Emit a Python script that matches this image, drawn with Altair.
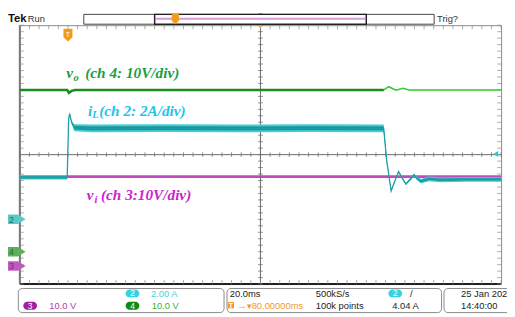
import altair as alt
import numpy as np
import pandas as pd

# ---------------- data read from the screen ----------------
# time axis in ms (20 ms/div), trigger at 0 ms, screen spans -20 .. 180 ms
iL_t = [-20, -8, -0.3, 0.3, 0.7, 1.5, 2.7, 10, 40, 70, 100, 131.2, 132.5, 134.3, 135.8,
        137.4, 138.9, 140.4, 142.1, 143.8, 145.3, 146.7, 150, 155, 165, 180]
iL_A = [2.6, 2.6, 2.6, 6.2, 6.53, 6.0, 5.66, 5.62, 5.64, 5.62, 5.64, 5.62, 3.6, 1.76, 2.35,
        2.95, 2.55, 2.18, 2.45, 2.74, 2.5, 2.36, 2.5, 2.45, 2.47, 2.47]
iL_noise = [0.14, 0.14, 0.14, 0.05, 0.05, 0.08, 0.22, 0.24, 0.24, 0.24, 0.24, 0.24, 0.05, 0.05, 0.05,
            0.05, 0.06, 0.06, 0.08, 0.1, 0.12, 0.14, 0.15, 0.15, 0.15, 0.15]

vo_t = [-20, -0.3, 0.4, 1.5, 3, 131.3, 133.3, 136.3, 139.3, 141.7, 150, 180]
vo_V = [50.0, 50.0, 49.1, 49.7, 50.0, 50.0, 51.0, 49.9, 50.5, 50.0, 50.0, 50.0]

vi_t = [-20, 0, 40, 80, 120, 131, 150, 180]
vi_V = [27.6, 27.6, 27.6, 27.6, 27.6, 27.6, 27.6, 27.6]

# channel settings (scale per division, ground position in divisions)
CH2_SCALE, CH2_GND = 2.0, -2.0     # iL
CH3_SCALE, CH3_GND = 10.0, -3.44   # vi
CH4_SCALE, CH4_GND = 10.0, -3.0    # vo
TRIG_LEVEL = 4.04

# ---------------- layout ----------------
W, H = 489, 263
XS = alt.Scale(domain=[-20, 180], nice=False, zero=False)
YS = alt.Scale(domain=[-4, 4], nice=False, zero=False)

def px(field):
    return alt.X(field, type="quantitative", scale=None, axis=None)

def py(field):
    return alt.Y(field, type="quantitative", scale=None, axis=None)

iL = pd.DataFrame({"t": iL_t, "v": iL_A, "n": iL_noise})
iL["y"] = iL.v / CH2_SCALE + CH2_GND
iL["lo"] = (iL.v - iL.n) / CH2_SCALE + CH2_GND
iL["hi"] = (iL.v + iL.n) / CH2_SCALE + CH2_GND
iL["lo2"] = (iL.v - 0.5 * iL.n) / CH2_SCALE + CH2_GND
iL["hi2"] = (iL.v + 0.5 * iL.n) / CH2_SCALE + CH2_GND

vo = pd.DataFrame({"t": vo_t, "v": vo_V})
vo["y"] = vo.v / CH4_SCALE + CH4_GND
vo_a = vo[vo.t <= 131.3]
vo_b = vo[vo.t >= 131.3]

vi = pd.DataFrame({"t": vi_t, "v": vi_V})
vi["y"] = vi.v / CH3_SCALE + CH3_GND

# ---------------- graticule ----------------
base = alt.Chart(vi).mark_line(strokeWidth=3, color="#c04cc0").encode(
    x=alt.X("t:Q", scale=XS, axis=alt.Axis(values=[0, 20, 40, 60, 100, 120, 140, 160], grid=True,
            gridDash=[1, 5.575], gridColor="#8c8c8c", gridWidth=1, labels=False, ticks=False,
            domain=False, title=None)),
    y=alt.Y("y:Q", scale=YS, axis=alt.Axis(values=[-3, -2, -1, 1, 2, 3], grid=True,
            gridDash=[1, 8.78], gridColor="#8c8c8c", gridWidth=1, labels=False, ticks=False,
            domain=False, title=None)),
)

minor_x = pd.DataFrame({"t": np.arange(-20, 180.01, 4.0)})
minor_y = pd.DataFrame({"y": np.arange(-4, 4.01, 0.2)})

cross_h = alt.Chart(pd.DataFrame({"y": [0]})).mark_rule(color="#6a6a6a", strokeWidth=1).encode(
    y=alt.Y("y:Q", scale=YS, axis=None))
cross_v = alt.Chart(pd.DataFrame({"t": [80]})).mark_rule(color="#6a6a6a", strokeWidth=1).encode(
    x=alt.X("t:Q", scale=XS, axis=None))
tick_cx = alt.Chart(minor_x).mark_tick(color="#6a6a6a", size=5, thickness=1).encode(
    x=alt.X("t:Q", scale=XS, axis=None), y=alt.datum(0, scale=YS))
tick_cy = alt.Chart(minor_y).mark_tick(color="#6a6a6a", size=5, thickness=1, orient="horizontal").encode(
    y=alt.Y("y:Q", scale=YS, axis=None), x=alt.datum(80, scale=XS))
tick_top = alt.Chart(minor_x).mark_tick(color="#8a8a8a", size=4, thickness=1, yOffset=2).encode(
    x=alt.X("t:Q", scale=XS, axis=None), y=alt.datum(4, scale=YS))
tick_bot = alt.Chart(minor_x).mark_tick(color="#8a8a8a", size=4, thickness=1, yOffset=-2).encode(
    x=alt.X("t:Q", scale=XS, axis=None), y=alt.datum(-4, scale=YS))
tick_l = alt.Chart(minor_y).mark_tick(color="#8a8a8a", size=4, thickness=1, orient="horizontal", xOffset=2).encode(
    y=alt.Y("y:Q", scale=YS, axis=None), x=alt.datum(-20, scale=XS))
tick_r = alt.Chart(minor_y).mark_tick(color="#8a8a8a", size=4, thickness=1, orient="horizontal", xOffset=-2).encode(
    y=alt.Y("y:Q", scale=YS, axis=None), x=alt.datum(180, scale=XS))
frame_bot = alt.Chart(pd.DataFrame({"y": [-4]})).mark_rule(color="#202020", strokeWidth=2).encode(
    y=alt.Y("y:Q", scale=YS, axis=None))
frame_l = alt.Chart(pd.DataFrame({"t": [-20]})).mark_rule(color="#7a7a7a", strokeWidth=2).encode(
    x=alt.X("t:Q", scale=XS, axis=None))

# ---------------- traces ----------------
vo_line_a = alt.Chart(vo_a).mark_line(strokeWidth=2.6, color="#1c8c1c").encode(
    x=alt.X("t:Q", scale=XS, axis=None), y=alt.Y("y:Q", scale=YS, axis=None))
vo_line_b = alt.Chart(vo_b).mark_line(strokeWidth=1.6, color="#2fcc2f").encode(
    x=alt.X("t:Q", scale=XS, axis=None), y=alt.Y("y:Q", scale=YS, axis=None))

iL_band = alt.Chart(iL).mark_area(color="#3fcdd6", opacity=1).encode(
    x=alt.X("t:Q", scale=XS, axis=None), y=alt.Y("lo:Q", scale=YS, axis=None), y2="hi:Q")
iL_core = alt.Chart(iL).mark_area(color="#1d9090", opacity=1).encode(
    x=alt.X("t:Q", scale=XS, axis=None), y=alt.Y("lo2:Q", scale=YS, axis=None), y2="hi2:Q")
iL_line = alt.Chart(iL).mark_line(strokeWidth=1.3, color="#20a0a4").encode(
    x=alt.X("t:Q", scale=XS, axis=None), y=alt.Y("y:Q", scale=YS, axis=None))

# ---------------- markers ----------------
tag_path = "M -1 -0.36 L 0.42 -0.36 L 1 0 L 0.42 0.36 L -1 0.36 Z"
tags = pd.DataFrame({
    "y": [CH2_GND, CH4_GND, CH3_GND],
    "lab": ["2", "4", "3"],
    "fill": ["#5cc9c9", "#5fae5f", "#bd5cbd"],
    "ink": ["#1f6a6a", "#2a6a2a", "#7a2a7a"],
})
tag_shape = alt.Chart(tags).mark_point(shape=tag_path, filled=True, size=720, opacity=1).encode(
    x=alt.value(-7.5), y=alt.Y("y:Q", scale=YS, axis=None), color=alt.Color("fill:N", scale=None))
tag_text = alt.Chart(tags).mark_text(fontSize=9, font="Liberation Sans", dx=-1, dy=0.5, baseline="middle").encode(
    x=alt.value(-7.5), y=alt.Y("y:Q", scale=YS, axis=None), text="lab:N", color=alt.Color("ink:N", scale=None))

trig_arrow = alt.Chart(pd.DataFrame({"y": [TRIG_LEVEL / CH2_SCALE + CH2_GND]})).mark_point(
    shape="triangle-left", filled=True, size=35, color="#22c8e0", opacity=1).encode(
    x=alt.value(483.5), y=alt.Y("y:Q", scale=YS, axis=None))

t_path = "M -0.7 -1 L 0.7 -1 L 0.7 0.35 L 0 1 L -0.7 0.35 Z"
t_mark = alt.Chart(pd.DataFrame({"t": [0]})).mark_point(shape=t_path, filled=True, size=170,
    color="#f29a1e", opacity=1).encode(x=alt.X("t:Q", scale=XS, axis=None), y=alt.value(10))
t_mark_txt = alt.Chart(pd.DataFrame({"t": [0]})).mark_text(text="T", fontSize=7, color="#ffe7c0",
    fontWeight="bold", baseline="middle").encode(x=alt.X("t:Q", scale=XS, axis=None), y=alt.value(9.5))
center_tri = alt.Chart(pd.DataFrame({"t": [80, 80], "y": [0.5, -10.5], "s": [40, 20]})).mark_point(
    shape="triangle-down", filled=True, color="#f29a1e", opacity=1).encode(
    x=alt.X("t:Q", scale=XS, axis=None), y=py("y"), size=alt.Size("s:Q", scale=None))

# ---------------- header ----------------
rec_outer = alt.Chart(pd.DataFrame({"x": [65], "x2": [421], "y": [-11], "y2": [-1]})).mark_rect(
    fill="#ffffff", stroke="#444444", strokeWidth=1).encode(x=px("x"), x2="x2:Q", y=py("y"), y2="y2:Q")
rec_inner = alt.Chart(pd.DataFrame({"x": [137], "x2": [352], "y": [-11], "y2": [-1]})).mark_rect(
    fill="#ffffff", stroke="#222222", strokeWidth=1.5).encode(x=px("x"), x2="x2:Q", y=py("y"), y2="y2:Q")
rec_line = alt.Chart(pd.DataFrame({"x": [138], "x2": [351], "y": [-6.5]})).mark_rule(
    color="#d99ad9", strokeWidth=2).encode(x=px("x"), x2="x2:Q", y=py("y"))
rec_t = alt.Chart(pd.DataFrame({"x": [158], "y": [-6.3]})).mark_point(shape=t_path, filled=True, size=110,
    color="#f29a1e", opacity=1).encode(x=px("x"), y=py("y"))

hdr = pd.DataFrame({"x": [-12], "y": [-3], "text": ["Tek"]})
hdr_tek = alt.Chart(hdr).mark_text(align="left", baseline="alphabetic", fontSize=11.5, fontWeight="bold",
    font="Liberation Sans", color="#111111").encode(x=px("x"), y=py("y"), text="text:N")
hdr2 = pd.DataFrame({"x": [8, 424], "y": [-3, -3], "text": ["Run", "Trig?"]})
hdr_small = alt.Chart(hdr2).mark_text(align="left", baseline="alphabetic", fontSize=9.5,
    font="Liberation Sans", color="#333333").encode(x=px("x"), y=py("y"), text="text:N")

# ---------------- trace labels ----------------
lab_main = pd.DataFrame({
    "x": [47.3, 66.5, 69.3, 80.7, 68.0, 82.5],
    "y": [54, 54, 92, 92, 178, 178],
    "text": ["v", "(ch 4: 10V/div)", "i", "(ch 2: 2A/div)", "v", "(ch 3:10V/div)"],
    "color": ["#19a040", "#19a040", "#22c4ea", "#22c4ea", "#cc22cc", "#cc22cc"],
})
lab_sub = pd.DataFrame({
    "x": [54.5, 73.5, 76.0],
    "y": [57, 94.5, 181],
    "text": ["o", "L", "i"],
    "color": ["#19a040", "#22c4ea", "#cc22cc"],
})
labels_main = alt.Chart(lab_main).mark_text(align="left", baseline="alphabetic", fontSize=15.5,
    font="Liberation Serif", fontStyle="italic", fontWeight="bold").encode(
    x=px("x"), y=py("y"), text="text:N", color=alt.Color("color:N", scale=None))
labels_sub = alt.Chart(lab_sub).mark_text(align="left", baseline="alphabetic", fontSize=10.5,
    font="Liberation Serif", fontStyle="italic", fontWeight="bold").encode(
    x=px("x"), y=py("y"), text="text:N", color=alt.Color("color:N", scale=None))

# ---------------- footer ----------------
boxes = pd.DataFrame({"x": [-1.5, 210.5, 431], "x2": [207.5, 428.5, 520], "y": [267.5] * 3, "y2": [292] * 3})
foot_boxes = alt.Chart(boxes).mark_rect(fill="#ffffff", stroke="#8a8a8a", strokeWidth=1, cornerRadius=4).encode(
    x=px("x"), x2="x2:Q", y=py("y"), y2="y2:Q")

badges = pd.DataFrame({
    "x": [107.5, 3.5, 107.5, 374.5], "x2": [121.5, 17.5, 121.5, 388.5],
    "y": [268.5, 281, 281, 268.5], "y2": [276.5, 289, 289, 276.5],
    "fill": ["#33d3e3", "#a020a0", "#108a10", "#33d3e3"],
    "lab": ["2", "3", "4", "2"],
})
badge_rect = alt.Chart(badges).mark_rect(cornerRadius=4).encode(
    x=px("x"), x2="x2:Q", y=py("y"), y2="y2:Q", color=alt.Color("fill:N", scale=None))
badge_txt = alt.Chart(badges).transform_calculate(cx="(datum.x + datum.x2) / 2", cy="datum.y2 - 1").mark_text(
    align="center", baseline="alphabetic", fontSize=8.5, font="Liberation Sans", color="#ffffff").encode(
    x=px("cx"), y=py("cy"), text="lab:N")

foot = pd.DataFrame({
    "x": [133.3, 30, 134, 213.3, 300.7, 396.5, 221, 300.7, 378.3, 448.3, 448.3],
    "y": [276, 288.5, 288.5, 276, 276, 276, 288.5, 288.5, 288.5, 276, 288.5],
    "text": ["2.00 A", "10.0 V", "10.0 V", "20.0ms", "500kS/s", "/", "\u2192\u25be80.00000ms",
             "100k points", "4.04 A", "25 Jan  202", "14:40:00"],
    "color": ["#3cd6e6", "#b040b0", "#3cae3c", "#222222", "#222222", "#222222", "#f29a1e",
              "#222222", "#222222", "#222222", "#222222"],
})
foot_txt = alt.Chart(foot).mark_text(align="left", baseline="alphabetic", fontSize=9.5,
    font="Liberation Sans").encode(x=px("x"), y=py("y"), text="text:N", color=alt.Color("color:N", scale=None))
foot_t = alt.Chart(pd.DataFrame({"x": [214.5], "y": [284.5]})).mark_point(shape="square", filled=True, size=40,
    color="#f29a1e", opacity=1).encode(x=px("x"), y=py("y"))
foot_t_txt = alt.Chart(pd.DataFrame({"x": [214.5], "y": [287.5], "text": ["T"]})).mark_text(
    fontSize=7, fontWeight="bold", color="#ffffff", baseline="alphabetic").encode(x=px("x"), y=py("y"), text="text:N")

chart = alt.layer(
    base, frame_l, frame_bot, cross_h, cross_v, tick_cx, tick_cy, tick_top, tick_bot, tick_l, tick_r,
    vo_line_a, vo_line_b, iL_band, iL_core, iL_line,
    tag_shape, tag_text, trig_arrow, t_mark, t_mark_txt, center_tri,
    rec_outer, rec_inner, rec_line, rec_t, hdr_tek, hdr_small,
    labels_main, labels_sub,
    foot_boxes, badge_rect, badge_txt, foot_txt, foot_t, foot_t_txt,
).properties(
    width=W, height=H, autosize=alt.AutoSizeParams(type="none"),
    padding={"left": 12, "top": 15, "right": 6, "bottom": 31},
).configure(background="#ffffff").configure_view(stroke="#8a8a8a", strokeWidth=1)

chart.save("out.html", embed_options={"renderer": "svg", "actions": False})
